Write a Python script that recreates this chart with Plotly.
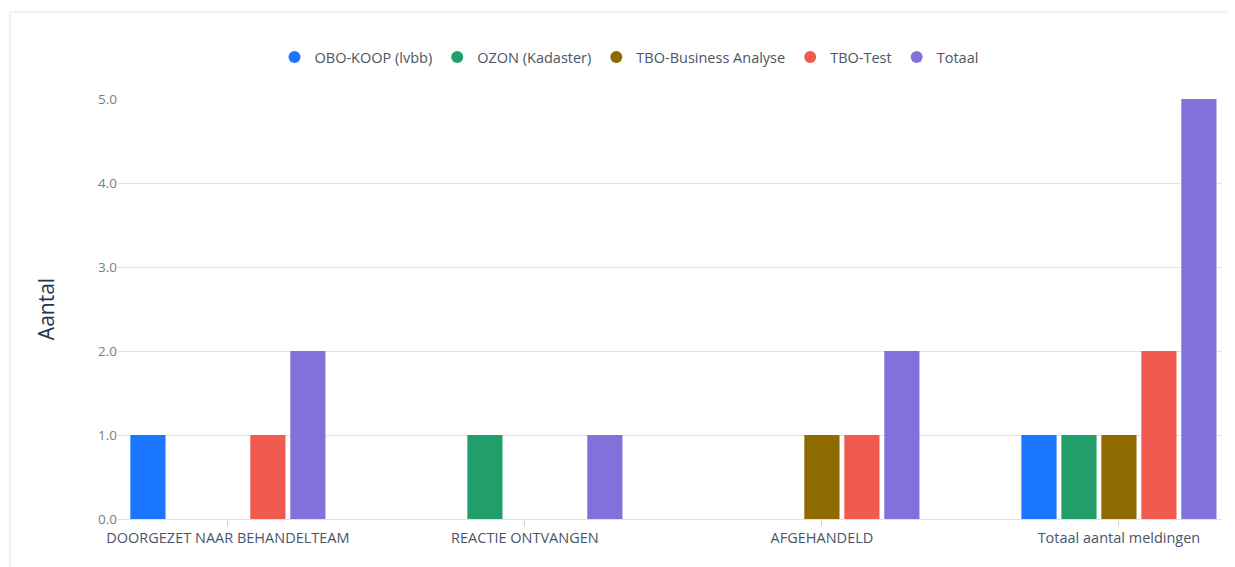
import plotly.graph_objects as go

categories = ["DOORGEZET NAAR BEHANDELTEAM", "REACTIE ONTVANGEN", "AFGEHANDELD", "Totaal aantal meldingen"]
series_names = ["OBO-KOOP (lvbb)", "OZON (Kadaster)", "TBO-Business Analyse", "TBO-Test", "Totaal"]
obo_koop = [1, 0, 0, 1]
ozon = [0, 1, 0, 1]
tbo_ba = [0, 0, 1, 1]
tbo_test = [1, 0, 1, 2]
totaal = [2, 1, 2, 5]
y_ticks = [0, 1, 2, 3, 4, 5]
y_ticklabels = ["0.0", "1.0", "2.0", "3.0", "4.0", "5.0"]

colors = ["#1a76fe", "#229e6b", "#8f6a00", "#f15a4f", "#8271db"]
values = [obo_koop, ozon, tbo_ba, tbo_test, totaal]

OFF = 8  # browser body margin
W, H = 1235 - OFF, 567 - OFF
L, R, T, B = 118 - OFF, 13, 99 - OFF, 48

fig = go.Figure()
for name, vals, col in zip(series_names, values, colors):
    fig.add_trace(go.Bar(
        x=categories, y=vals, name=name, marker_color=col,
        marker_line_width=0,
        legendgroup=name, showlegend=False,
    ))
for name, col in zip(series_names, colors):
    fig.add_trace(go.Scatter(
        x=[None], y=[None], mode="markers", name=name, legendgroup=name,
        marker=dict(symbol="circle", size=12, color=col),
    ))

pw = W - L - R
ph = H - T - B


def px_x(page_x):
    return (page_x - OFF - L) / pw


def px_y(page_y):
    return (H - (page_y - OFF) - B) / ph


# card border in paper coords
fig.add_shape(type="rect", xref="paper", yref="paper",
              x0=px_x(10), x1=px_x(1260), y0=px_y(640), y1=px_y(12),
              line=dict(color="#e3e3e3", width=1), fillcolor="rgba(0,0,0,0)", layer="below")

fig.update_layout(
    width=W, height=H,
    margin=dict(l=L, r=R, t=T, b=B, autoexpand=False),
    paper_bgcolor="white", plot_bgcolor="white",
    barmode="group", bargap=0.327, bargroupgap=0.12,
    font=dict(family="Open Sans, Noto Sans, sans-serif", color="#6e7079"),
    legend=dict(orientation="h", x=px_x(629), xanchor="center", y=px_y(57),
                yanchor="middle", font=dict(size=14.5, color="#4b5563"),
                itemwidth=30, tracegroupgap=0, bgcolor="rgba(0,0,0,0)"),
    showlegend=True,
)
fig.update_xaxes(
    type="category", range=[-0.37, 3.347],
    showgrid=False, showline=True, linecolor="#e0e0e0", linewidth=1,
    ticks="outside", ticklen=6, tickcolor="#d0d0d0",
    tickfont=dict(size=14.5, color="#4a5568"),
    zeroline=False, fixedrange=True,
)
fig.update_yaxes(
    range=[0, 5], tickvals=y_ticks, ticktext=y_ticklabels,
    showgrid=True, gridcolor="#e4e4e4", gridwidth=1,
    zeroline=False, showline=False,
    tickfont=dict(size=13.5, color="#7a7c85"),
    title=dict(text="Aantal", font=dict(size=21, color="#1f3550"), standoff=37),
    ticks="",
    fixedrange=True,
)
fig.write_html("out.html")
